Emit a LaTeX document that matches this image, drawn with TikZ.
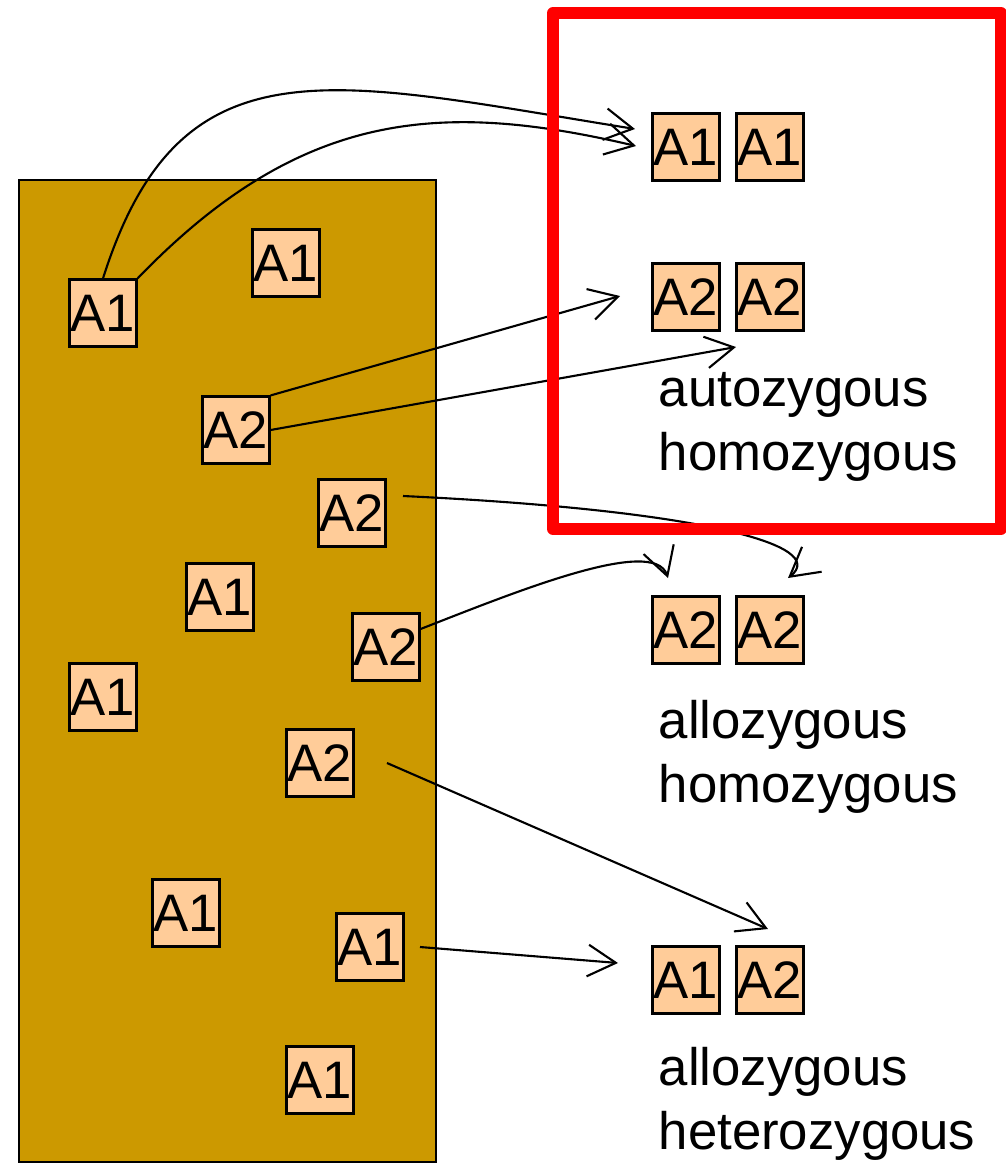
\documentclass[tikz,border=0pt]{standalone}
\usepackage{fontspec}
\setmainfont{Liberation Sans}
\usetikzlibrary{arrows.meta}
\definecolor{soil}{HTML}{CC9900}
\definecolor{allele}{HTML}{FFCC99}

\begin{document}
\begin{tikzpicture}[x=0.01cm,y=-0.01cm,
    font=\fontsize{15}{18}\selectfont,
    gene/.style={draw=black,fill=allele,line width=0.6pt,
      minimum width=0.67cm,minimum height=0.67cm,inner sep=0pt},
    zygo/.style={anchor=base west,align=left,inner sep=0pt},
    pick/.style={-{Straight Barb[length=8pt,width=9pt]},line width=0.6pt}]
  \useasboundingbox (0,0) rectangle (1005,1163);
  % gene pool
  \draw[fill=soil,line width=0.7pt] (19,180) rectangle (436,1162);
  \path[every node/.style=gene]
    (103,313) node (p1){A1}
    (286,263) node (p2){A1}
    (236,430) node (p3){A2}
    (352,513) node (p4){A2}
    (220,597) node (p5){A1}
    (386,647) node (p6){A2}
    (103,697) node (p7){A1}
    (320,763) node (p8){A2}
    (186,913) node (p9){A1}
    (370,947) node (p10){A1}
    (320,1080) node (p11){A1};
  % offspring
  \path[every node/.style=gene]
    (686,147) node (q1){A1}
    (770,147) node (q2){A1}
    (686,297) node (q3){A2}
    (770,297) node (q4){A2}
    (686,630) node (q5){A2}
    (770,630) node (q6){A2}
    (686,980) node (q7){A1}
    (770,980) node (q8){A2};
  \node[zygo] (z1) at (658,470) {autozygous\\homozygous};
  \node[zygo] (z2) at (658,802) {allozygous\\homozygous};
  \node[zygo] (z3) at (658,1149) {allozygous\\heterozygous};
  % free ends
  \coordinate (t1) at (635,129);
  \coordinate (t2) at (636,146);
  \coordinate (t3) at (620,296);
  \coordinate (t4) at (736,347);
  \coordinate (t5) at (788,578);
  \coordinate (t6) at (668,578);
  \coordinate (t7) at (768,929);
  \coordinate (t8) at (618,963);
  \coordinate (s5) at (403,496);
  \coordinate (s7) at (387,763);
  \coordinate (s8) at (420,947);
  \begin{scope}[pick]
    \draw (p1.north) .. controls (180,35) and (330,80) .. (t1);
    \draw (p1.north east) .. controls (300,110) and (440,100) .. (t2);
    \draw (p3.north east) -- (t3);
    \draw (p3.east) -- (t4);
    \draw (s5) .. controls (700,510) and (830,545) .. (t5);
    \draw ([yshift=0.18cm]p6.east) .. controls (513,593) and (654,535) .. (t6);
    \draw (s7) -- (t7);
    \draw (s8) -- (t8);
  \end{scope}
  \draw[red,line width=0.12cm,line join=round] (553,13) rectangle (1001,529);
\end{tikzpicture}
\end{document}
